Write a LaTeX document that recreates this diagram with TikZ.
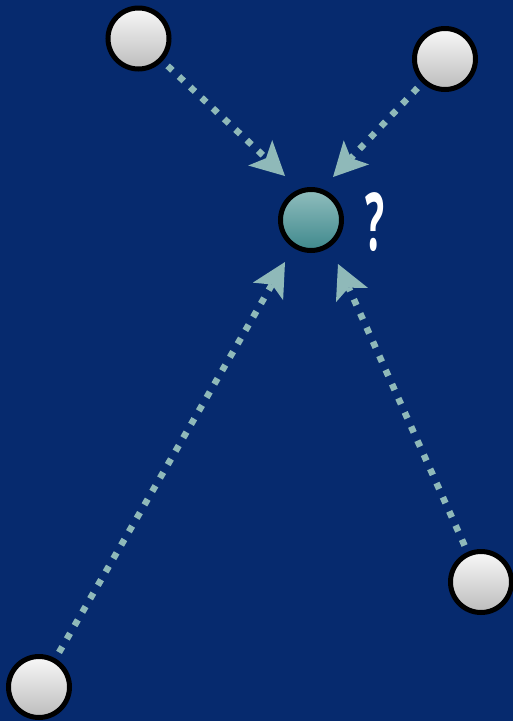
\documentclass[tikz,border=0pt]{standalone}
\usepackage{fontspec}
\newfontfamily\qfont{Open Sans}
\usetikzlibrary{arrows.meta}
\definecolor{bgblue}{RGB}{6,42,110}
\definecolor{arrowc}{RGB}{143,185,185}
\definecolor{greytop}{RGB}{248,248,248}
\definecolor{greybot}{RGB}{188,188,188}
\definecolor{tealtop}{RGB}{145,190,190}
\definecolor{tealbot}{RGB}{62,136,140}
\tikzset{
  ball/.style={circle, draw=black, line width=5pt, minimum size=61pt, inner sep=0pt, outer sep=2.5pt, top color=greytop, bottom color=greybot},
  hub/.style={ball, top color=tealtop, bottom color=tealbot},
  dotline/.style={draw=arrowc, line width=6.5pt, line cap=butt, dash pattern=on 6.5pt off 9pt, shorten <=7pt,
     -{Stealth[length=34pt, width=35pt, inset=8pt, line width=0pt]}}
}
\begin{document}
\begin{tikzpicture}[x=1pt,y=-1pt]
\fill[bgblue] (0,0) rectangle (513,721);
\useasboundingbox (0,0) rectangle (513,721);
\node[ball] (tl) at (138.5,38.5) {};
\node[ball] (tr) at (445,59) {};
\node[ball] (bl) at (39,687) {};
\node[ball] (br) at (481,582) {};
\node[hub] (c) at (311,220) {};
\node[text=white, font=\qfont\bfseries\fontsize{80}{80}\selectfont, xscale=0.5, inner sep=0pt] (q) at (375,222) {?};
\coordinate (ttl) at (285,176);
\coordinate (ttr) at (333,177);
\coordinate (tbl) at (285,262);
\coordinate (tbr) at (338,264);
\draw[dotline] (tl) -- (ttl);
\draw[dotline] (tr) -- (ttr);
\draw[dotline] (bl) -- (tbl);
\draw[dotline] (br) -- (tbr);
\end{tikzpicture}
\end{document}
